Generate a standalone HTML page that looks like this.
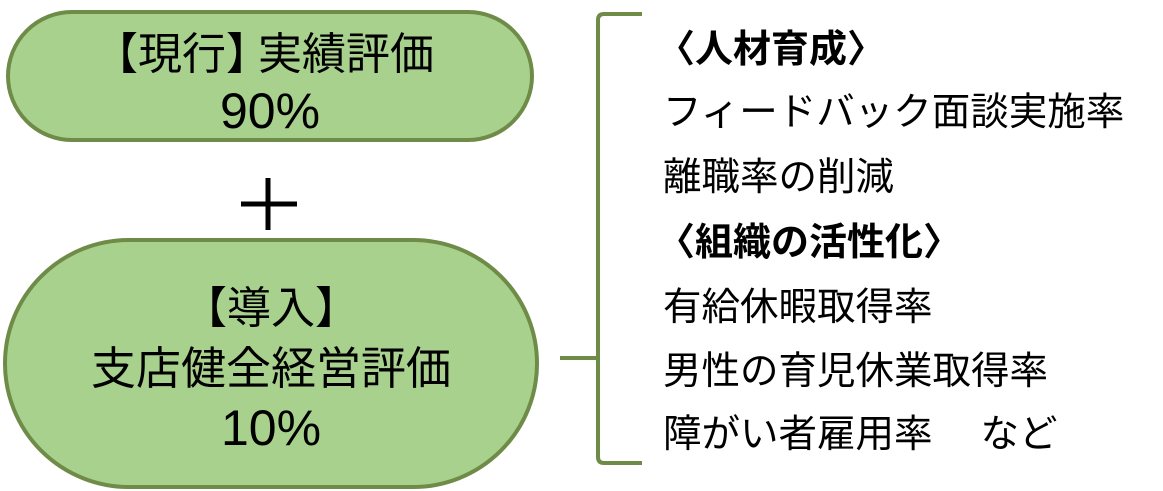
<!DOCTYPE html>
<html><head><meta charset="utf-8"><style>
body{margin:0;width:1163px;height:491px;background:#fff;position:relative;overflow:hidden;font-family:"Liberation Sans","Noto Sans CJK JP",sans-serif;color:#000}
.t{position:absolute;white-space:nowrap;line-height:1}
.c{text-align:center}
.n{margin-right:-12px}
.m{margin-left:-12px}
</style></head><body>
<svg width="1163" height="491" style="position:absolute;left:0;top:0">
<rect x="8" y="12" width="524" height="128" rx="64" fill="#a9d18e" stroke="#6e8c48" stroke-width="4"/>
<rect x="5" y="240" width="532" height="247" rx="124" fill="#a9d18e" stroke="#6e8c48" stroke-width="4"/>
<path d="M642 14 H604 Q598 14 598 20 V457 Q598 463 604 463 H642" fill="none" stroke="#6e8c48" stroke-width="4"/>
<line x1="560" y1="358" x2="598" y2="358" stroke="#6e8c48" stroke-width="4"/>
<line x1="241" y1="204" x2="297" y2="204" stroke="#000" stroke-width="5"/>
<line x1="268" y1="178" x2="268" y2="230" stroke="#000" stroke-width="5"/>
</svg>
<div class="t c" style="left:8px;width:524px;top:33px;font-size:44px"><span class="m">【</span>現行<span class="n">】</span>実績評価</div>
<div class="t c" style="left:8px;width:524px;top:86px;font-size:50px">90%</div>
<div class="t c" style="left:5px;width:532px;top:287px;font-size:44px">【導入】</div>
<div class="t c" style="left:5px;width:532px;top:346px;font-size:45px">支店健全経営評価</div>
<div class="t c" style="left:5px;width:532px;top:403px;font-size:50px">10%</div>
<div class="t" style="left:657px;top:31px;font-size:38px;font-weight:bold">〈人材育成〉</div>
<div class="t" style="left:663px;top:94px;font-size:38.5px">フィードバック面談実施率</div>
<div class="t" style="left:663px;top:159px;font-size:38.5px">離職率の削減</div>
<div class="t" style="left:657px;top:224px;font-size:38px;font-weight:bold">〈組織の活性化〉</div>
<div class="t" style="left:663px;top:289px;font-size:38.5px">有給休暇取得率</div>
<div class="t" style="left:663px;top:353px;font-size:38.5px">男性の育児休業取得率</div>
<div class="t" style="left:663px;top:416px;font-size:38.5px">障がい者雇用率<span style="display:inline-block;width:48px"></span>など</div>
</body></html>
